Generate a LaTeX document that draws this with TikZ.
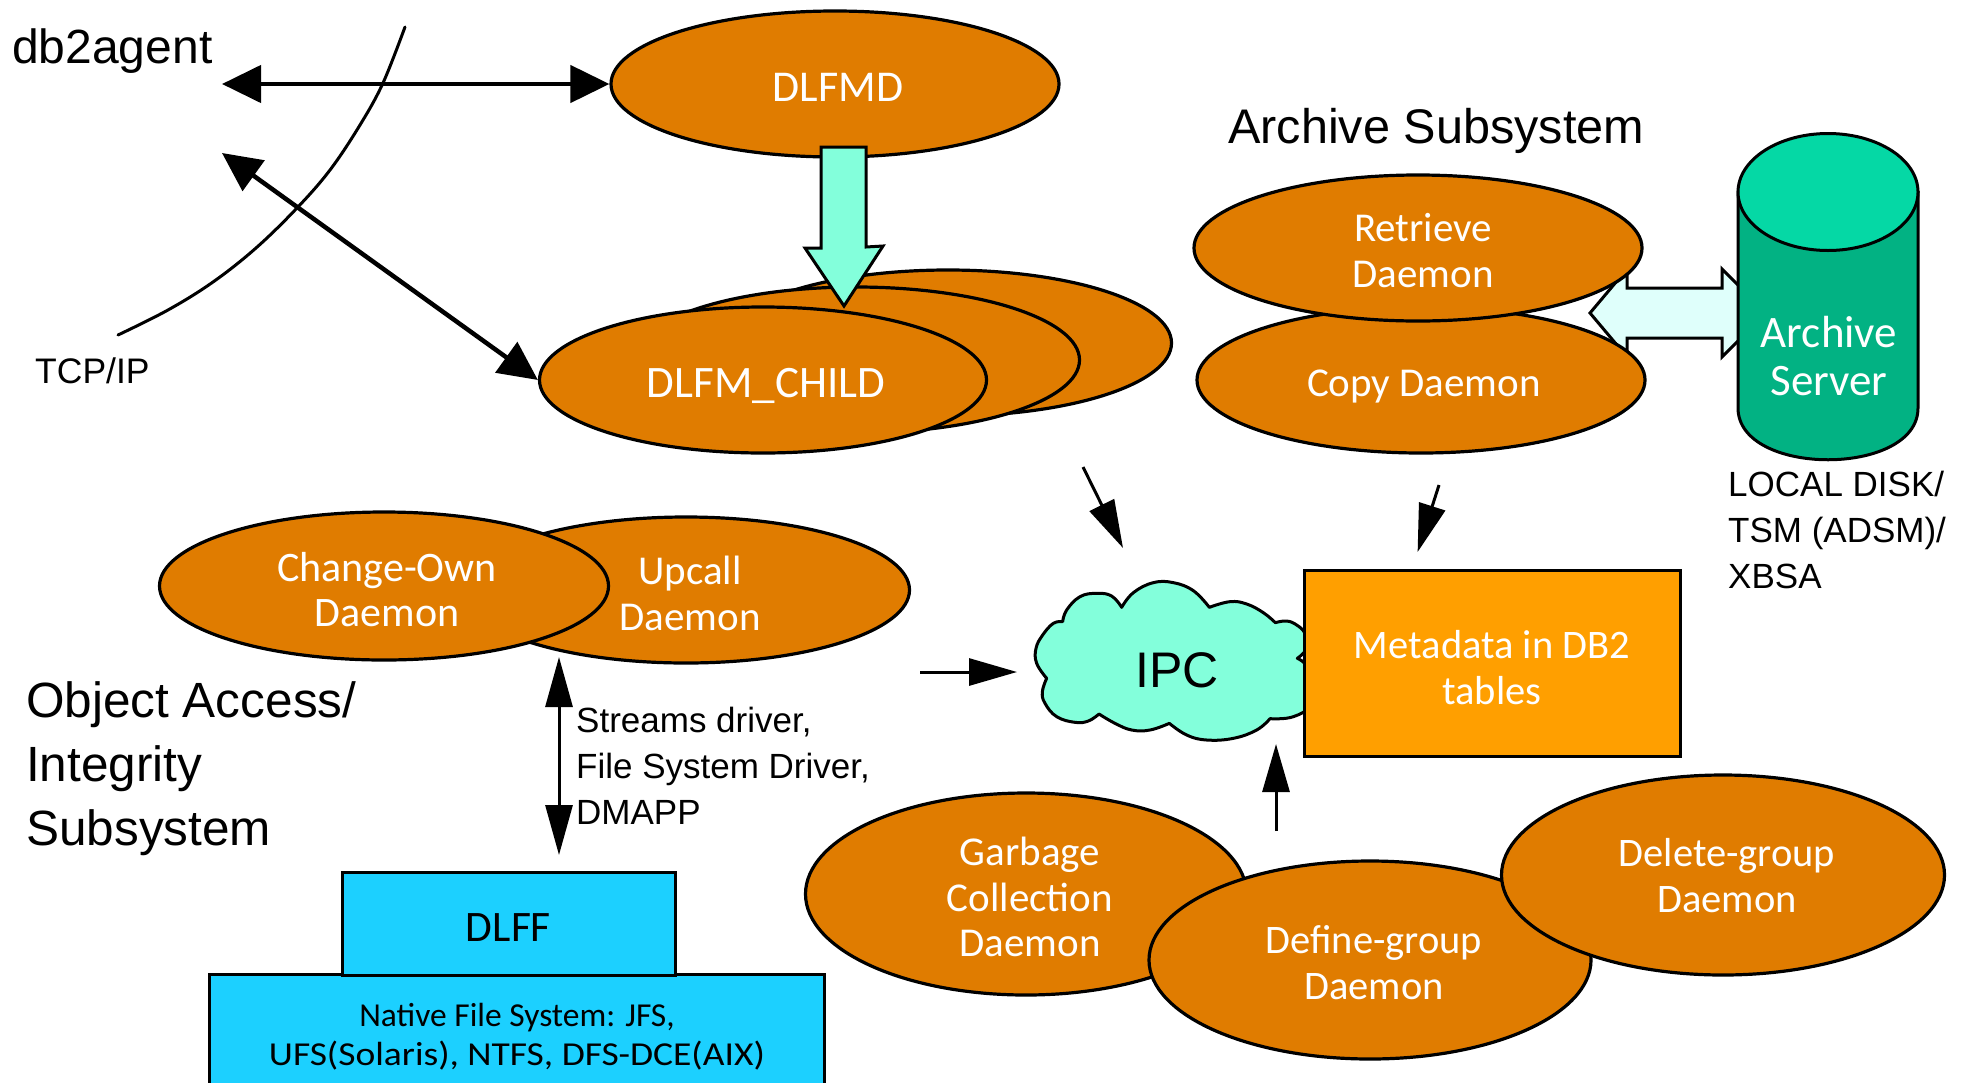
\documentclass[tikz,border=0pt]{standalone}
\usepackage{fontspec}
\setmainfont{Liberation Sans}
\newfontfamily\hum{Carlito}
\usetikzlibrary{shapes.geometric,arrows.meta}
\definecolor{orb}{HTML}{E07C00}
\definecolor{mint}{HTML}{83FFDB}
\definecolor{pale}{HTML}{DFFFFB}
\definecolor{cyanbox}{HTML}{1CD0FF}
\definecolor{amber}{HTML}{FF9F00}
\definecolor{cyltop}{HTML}{05D8A5}
\definecolor{cylbody}{HTML}{02B283}
\tikzset{
  orbnode/.style={ellipse,draw=black,line width=3.2pt,fill=orb,inner sep=0pt,
    minimum width=447pt,minimum height=146pt},
  orbtext/.style={inner sep=0pt,text=white,align=center,font=\hum\fontsize{41}{46}\selectfont},
  fatarrow/.style={draw=black,line width=3pt,line join=miter},
  boxnode/.style={draw=black,line width=3pt,inner sep=0pt,align=center},
  bigarrow/.style={line width=4.5pt,{Triangle[length=39pt,width=37pt]}-{Triangle[length=39pt,width=37pt]}},
  thinarrow/.style={line width=3pt,-{Triangle[length=48pt,width=27pt]}},
  twoway/.style={line width=3pt,{Triangle[length=50pt,width=27pt]}-{Triangle[length=50pt,width=27pt]}},
  label/.style={inner sep=0pt,text=black,align=left},
  t35/.style={font=\fontsize{35}{46}\selectfont},
  t48/.style={font=\fontsize{48.6}{64}\selectfont}
}
\begin{document}
\begin{tikzpicture}[x=1pt,y=-1pt]
\useasboundingbox[fill=white] (0,0) rectangle (1969,1082);
% free ends
\coordinate (topleft) at (222,84);
\coordinate (diagleft) at (222,153);
\coordinate (upfrom) at (1276,831);
\coordinate (upto) at (1276,744);
\coordinate (leftfrom) at (920,672);
\coordinate (leftto) at (1017,672);
\coordinate (childfrom) at (1083,467);
\coordinate (childto) at (1123,548);
\coordinate (copyfrom) at (1439,485);
\coordinate (copyto) at (1417.6,552);
\coordinate (fstop) at (559,657);
\coordinate (fsbot) at (559,855);
% TCP/IP boundary
\draw[line width=3pt,line cap=round] plot[smooth,tension=.6] coordinates {(405,27) (383,83) (360,125) (330,170) (297,208) (256,248) (213,282) (168,310) (118,335)};
% cloud
\begin{scope}[shift={(1000,560)},x=.33333pt,y=-.33333pt]
\draw[fill=mint,line width=3pt,line join=round]
 plot[smooth,tension=.7] coordinates {(188,185) (200,150) (240,110) (290,100) (335,108) (365,142)}
 -- plot[smooth,tension=.7] coordinates {(365,142) (400,98) (460,68) (520,68) (580,92) (628,142)}
 -- plot[smooth,tension=.7] coordinates {(628,142) (690,125) (740,132) (790,158) (826,188)}
 -- plot[smooth,tension=.7] coordinates {(826,188) (860,183) (890,195) (915,220) (925,260) (892,295)}
 -- plot[smooth,tension=.7] coordinates {(892,295) (925,330) (930,430) (880,470) (810,476)}
 -- plot[smooth,tension=.7] coordinates {(810,476) (770,510) (700,535) (620,540) (560,525) (508,490)}
 -- plot[smooth,tension=.7] coordinates {(508,490) (450,510) (395,510) (345,490) (297,462)}
 -- plot[smooth,tension=.7] coordinates {(297,462) (265,483) (225,487) (170,470) (135,430) (127,395) (140,355)}
 -- plot[smooth,tension=.7] coordinates {(140,355) (110,310) (108,265) (128,225) (160,190) (188,185)}
 -- cycle;
\end{scope}
\node[inner sep=0pt,anchor=base,font=\fontsize{50}{50}\selectfont] (ipc) at (1177,687) {IPC};
% ovals top
\node[orbnode,minimum width=448pt] (dlfmd) at (835,84) {};
\node[orbtext,font=\hum\fontsize{44}{46}\selectfont] (dlfmdtxt) at ([shift={(3,3)}]dlfmd.center) {DLFMD};
\node[orbnode] (childc) at (948,343) {};
\node[orbnode] (childb) at (856,360) {};
\node[orbnode] (childa) at (763,380) {};
\node[orbtext,font=\hum\fontsize{45}{46}\selectfont] (childtxt) at ([shift={(3,6)}]childa.center) {DLFM\_CHILD};
% fat arrow dlfmd to child
\draw[fatarrow,fill=mint] (821,147) -- (866,147) -- (866,247) -- (883,246) -- (844,306) -- (805,248) -- (821,248) -- cycle;
% fat double arrow
\draw[fatarrow,fill=pale] (1590,313) -- (1627,269) -- (1627,288) -- (1722,288) -- (1722,269) -- (1766,313) -- (1722,357) -- (1722,338) -- (1627,338) -- (1627,357) -- cycle;
\node[orbnode,minimum width=448pt] (copyd) at (1421,380) {};
\node[orbtext] (copytxt) at ([shift={(3,6)}]copyd.center) {Copy Daemon};
\node[orbnode,minimum width=448pt] (retr) at (1418,248) {};
\node[orbtext] (retrtxt) at ([shift={(5,3)}]retr.center) {Retrieve\\Daemon};
% archive server
\path[fill=cylbody,draw=black,line width=3pt] (1738,192) -- (1738,408) .. controls (1738,477) and (1918,477) .. (1918,408) -- (1918,192) -- cycle;
\node[ellipse,draw=black,line width=3pt,fill=cyltop,inner sep=0pt,minimum width=180pt,minimum height=117pt] (archtop) at (1828,192) {};
\node[inner sep=0pt,text=white,align=center,font=\hum\fontsize{45}{48}\selectfont] (archive) at (1829,356) {Archive\\Server};
% metadata
\node[boxnode,fill=amber,minimum width=376pt,minimum height=186pt] (meta) at (1492,663) {};
\node[orbtext,font=\hum\fontsize{40.5}{46}\selectfont] (metatxt) at ([shift={(0,5)}]meta.center) {Metadata in DB2\\tables};
% object access ovals
\node[orbnode,minimum height=146pt] (upcall) at (686,590) {};
\node[orbtext] (upcalltxt) at ([shift={(4,3)}]upcall.center) {Upcall\\Daemon};
\node[orbnode,minimum width=449pt,minimum height=148pt] (chown) at (384,586) {};
\node[orbtext,font=\hum\fontsize{42}{45}\selectfont] (chowntxt) at ([shift={(3,4)}]chown.center) {Change-Own\\Daemon};
% lower ovals
\node[orbnode,minimum width=441pt,minimum height=202pt] (garbage) at (1026,894) {};
\node[orbtext,font=\hum\fontsize{41}{45.5}\selectfont] (garbagetxt) at ([shift={(4,3)}]garbage.center) {Garbage\\Collection\\Daemon};
\node[orbnode,minimum width=442pt,minimum height=198pt] (define) at (1370,960) {};
\node[orbtext,font=\hum\fontsize{40.5}{46}\selectfont] (definetxt) at ([shift={(4,3)}]define.center) {Define-group\\Daemon};
\node[orbnode,minimum width=443pt,minimum height=200pt] (delete) at (1723,875) {};
\node[orbtext,font=\hum\fontsize{40.5}{46}\selectfont] (deletetxt) at ([shift={(4,1)}]delete.center) {Delete-group\\Daemon};
% boxes
\node[boxnode,fill=cyanbox,minimum width=615pt,minimum height=125pt] (native) at (517,1037) {};
\node[boxnode,fill=cyanbox,minimum width=333pt,minimum height=103pt] (dlff) at (508.5,923.5) {};
\node[inner sep=0pt,font=\hum\fontsize{43.5}{46}\selectfont] (dlfftxt) at ([shift={(0,4)}]dlff.center) {DLFF};
\node[inner sep=0pt,align=center,font=\hum\fontsize{33.5}{39}\selectfont] (nativetxt) at (517,1037) {Native File System: JFS,\\\addfontfeature{FakeStretch=1.12}UFS(Solaris), NTFS, DFS-DCE(AIX)};
% connectors
\draw[bigarrow] (topleft) -- (dlfmd.west);
\draw[bigarrow] (diagleft) -- (childa.west);
\draw[thinarrow] (childfrom) -- (childto);
\draw[thinarrow] (copyfrom) -- (copyto);
\draw[thinarrow] (leftfrom) -- (leftto);
\draw[thinarrow] (upfrom) -- (upto);
\draw[twoway] (fstop) -- (fsbot);
% labels
\node[label,anchor=base west,font=\fontsize{48}{50}\selectfont] (db2) at (12,63) {db2agent};
\node[label,anchor=base west,font=\fontsize{35.5}{40}\selectfont] (tcp) at (35,383) {TCP/IP};
\node[label,anchor=base west,t48] (arch) at (1228,143) {Archive Subsystem};
\node[label,t35,anchor=north west] (localdisk) at (1728,471) {LOCAL DISK/\\TSM (ADSM)/\\XBSA};
\node[label,font=\fontsize{49.5}{64}\selectfont,anchor=north west] (oa) at (26,681) {Object Access/\\Integrity\\Subsystem};
\node[label,t35,anchor=north west] (streams) at (576,707) {Streams driver,\\File System Driver,\\DMAPP};
\end{tikzpicture}
\end{document}
